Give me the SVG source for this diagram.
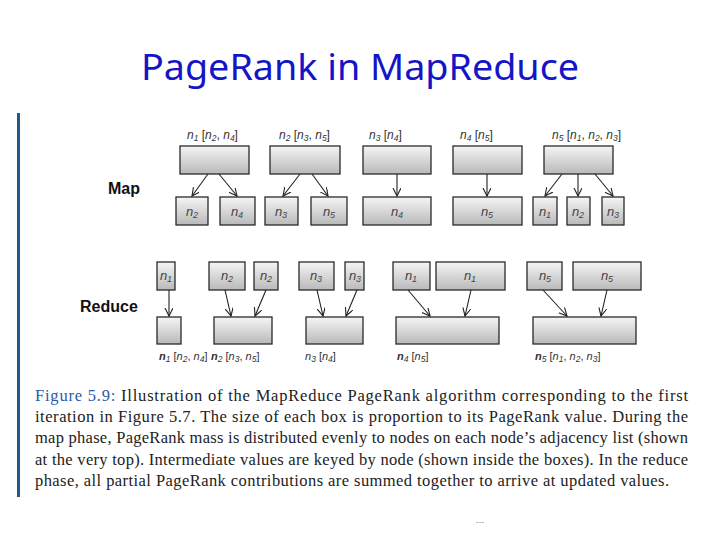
<svg xmlns="http://www.w3.org/2000/svg" width="720" height="540" viewBox="0 0 720 540">
<defs>
<linearGradient id="g" x1="0" y1="0" x2="0" y2="1">
<stop offset="0" stop-color="#f5f5f5"/>
<stop offset="1" stop-color="#b9b9b9"/>
</linearGradient>
<marker id="ah" markerWidth="10" markerHeight="10" refX="8" refY="4" orient="auto" markerUnits="userSpaceOnUse">
<path d="M0,0 L8,4 L0,8" fill="none" stroke="#222" stroke-width="1.1"/>
</marker>
</defs>
<style>
.box{fill:url(#g);stroke:#2a2a2a;stroke-width:1.3}
.in{font-family:"Liberation Sans",Arial,sans-serif;font-style:italic;font-size:13px;fill:#444;text-anchor:middle}
.lbl{font-family:"Liberation Sans",Arial,sans-serif;font-size:12px;fill:#333}
.rl{font-size:11px}
.i{font-style:italic}
.b{font-weight:bold;font-style:italic}
.s{font-size:8.5px;font-style:italic}
.arr{stroke:#222;stroke-width:1.1;fill:none;marker-end:url(#ah)}
.phase{font-family:"Liberation Sans",Arial,sans-serif;font-weight:bold;font-size:16px;fill:#111}
.cap{font-family:"Liberation Serif","Times New Roman",serif;font-size:16.5px;fill:#222}
</style>
<rect width="720" height="540" fill="#fff"/>
<text x="360" y="80" text-anchor="middle" font-family="'Noto Sans','Liberation Sans',sans-serif" font-size="37" fill="#1414c8" textLength="438" lengthAdjust="spacingAndGlyphs">PageRank in MapReduce</text>
<rect x="17" y="113" width="3" height="384" fill="#1f5a8a"/>

<text class="phase" x="108" y="194">Map</text>
<text class="phase" x="80" y="312">Reduce</text>

<g id="map-labels">
<text class="lbl" x="187" y="139"><tspan class="i">n</tspan><tspan class="s" dy="2">1</tspan><tspan dy="-2"> [</tspan><tspan class="i">n</tspan><tspan class="s" dy="2">2</tspan><tspan dy="-2">, </tspan><tspan class="i">n</tspan><tspan class="s" dy="2">4</tspan><tspan dy="-2">]</tspan></text>
<text class="lbl" x="279" y="139"><tspan class="i">n</tspan><tspan class="s" dy="2">2</tspan><tspan dy="-2"> [</tspan><tspan class="i">n</tspan><tspan class="s" dy="2">3</tspan><tspan dy="-2">, </tspan><tspan class="i">n</tspan><tspan class="s" dy="2">5</tspan><tspan dy="-2">]</tspan></text>
<text class="lbl" x="369" y="139"><tspan class="i">n</tspan><tspan class="s" dy="2">3</tspan><tspan dy="-2"> [</tspan><tspan class="i">n</tspan><tspan class="s" dy="2">4</tspan><tspan dy="-2">]</tspan></text>
<text class="lbl" x="460" y="139"><tspan class="i">n</tspan><tspan class="s" dy="2">4</tspan><tspan dy="-2"> [</tspan><tspan class="i">n</tspan><tspan class="s" dy="2">5</tspan><tspan dy="-2">]</tspan></text>
<text class="lbl" x="552" y="139"><tspan class="i">n</tspan><tspan class="s" dy="2">5</tspan><tspan dy="-2"> [</tspan><tspan class="i">n</tspan><tspan class="s" dy="2">1</tspan><tspan dy="-2">, </tspan><tspan class="i">n</tspan><tspan class="s" dy="2">2</tspan><tspan dy="-2">, </tspan><tspan class="i">n</tspan><tspan class="s" dy="2">3</tspan><tspan dy="-2">]</tspan></text>
</g>

<g id="m1"><rect class="box" x="180" y="146" width="69" height="28"/></g>
<g id="m2"><rect class="box" x="270" y="146" width="70" height="28"/></g>
<g id="m3"><rect class="box" x="363" y="146" width="68" height="28"/></g>
<g id="m4"><rect class="box" x="453" y="146" width="69" height="28"/></g>
<g id="m5"><rect class="box" x="544" y="146" width="69" height="28"/></g>

<g id="mo1"><rect class="box" x="176" y="197" width="32" height="28"/><text class="in" x="192" y="216">n<tspan font-size="9" dy="2">2</tspan></text></g>
<g id="mo2"><rect class="box" x="220" y="197" width="35" height="28"/><text class="in" x="237" y="216">n<tspan font-size="9" dy="2">4</tspan></text></g>
<g id="mo3"><rect class="box" x="265" y="197" width="33" height="28"/><text class="in" x="281" y="216">n<tspan font-size="9" dy="2">3</tspan></text></g>
<g id="mo4"><rect class="box" x="311" y="197" width="36" height="28"/><text class="in" x="329" y="216">n<tspan font-size="9" dy="2">5</tspan></text></g>
<g id="mo5"><rect class="box" x="363" y="197" width="68" height="28"/><text class="in" x="397" y="216">n<tspan font-size="9" dy="2">4</tspan></text></g>
<g id="mo6"><rect class="box" x="453" y="197" width="69" height="28"/><text class="in" x="487" y="216">n<tspan font-size="9" dy="2">5</tspan></text></g>
<g id="mo7"><rect class="box" x="533" y="197" width="24" height="28"/><text class="in" x="545" y="216">n<tspan font-size="9" dy="2">1</tspan></text></g>
<g id="mo8"><rect class="box" x="567" y="197" width="23" height="28"/><text class="in" x="578" y="216">n<tspan font-size="9" dy="2">2</tspan></text></g>
<g id="mo9"><rect class="box" x="602" y="197" width="22" height="28"/><text class="in" x="613" y="216">n<tspan font-size="9" dy="2">3</tspan></text></g>

<g id="ri1"><rect class="box" x="157" y="262" width="18" height="28"/><text class="in" x="166" y="280">n<tspan font-size="9" dy="2">1</tspan></text></g>
<g id="ri2"><rect class="box" x="209" y="262" width="36" height="28"/><text class="in" x="227" y="280">n<tspan font-size="9" dy="2">2</tspan></text></g>
<g id="ri3"><rect class="box" x="254" y="262" width="24" height="28"/><text class="in" x="266" y="280">n<tspan font-size="9" dy="2">2</tspan></text></g>
<g id="ri4"><rect class="box" x="299" y="262" width="35" height="28"/><text class="in" x="316" y="280">n<tspan font-size="9" dy="2">3</tspan></text></g>
<g id="ri5"><rect class="box" x="345" y="262" width="19" height="28"/><text class="in" x="355" y="280">n<tspan font-size="9" dy="2">3</tspan></text></g>
<g id="ri6"><rect class="box" x="393" y="262" width="37" height="28"/><text class="in" x="411" y="280">n<tspan font-size="9" dy="2">1</tspan></text></g>
<g id="ri7"><rect class="box" x="436" y="262" width="69" height="28"/><text class="in" x="470" y="280">n<tspan font-size="9" dy="2">1</tspan></text></g>
<g id="ri8"><rect class="box" x="527" y="262" width="35" height="28"/><text class="in" x="545" y="280">n<tspan font-size="9" dy="2">5</tspan></text></g>
<g id="ri9"><rect class="box" x="573" y="262" width="68" height="28"/><text class="in" x="607" y="280">n<tspan font-size="9" dy="2">5</tspan></text></g>

<g id="r1"><rect class="box" x="157" y="317" width="24" height="27"/></g>
<g id="r2"><rect class="box" x="214" y="317" width="58" height="27"/></g>
<g id="r3"><rect class="box" x="306" y="317" width="57" height="27"/></g>
<g id="r4"><rect class="box" x="396" y="317" width="103" height="27"/></g>
<g id="r5"><rect class="box" x="533" y="317" width="103" height="27"/></g>

<g id="reduce-labels">
<text class="lbl rl" x="159" y="360"><tspan class="b">n</tspan><tspan class="s" dy="2">1</tspan><tspan dy="-2"> [</tspan><tspan class="i">n</tspan><tspan class="s" dy="2">2</tspan><tspan dy="-2">, </tspan><tspan class="i">n</tspan><tspan class="s" dy="2">4</tspan><tspan dy="-2">]</tspan></text>
<text class="lbl rl" x="211" y="360"><tspan class="b">n</tspan><tspan class="s" dy="2">2</tspan><tspan dy="-2"> [</tspan><tspan class="i">n</tspan><tspan class="s" dy="2">3</tspan><tspan dy="-2">, </tspan><tspan class="i">n</tspan><tspan class="s" dy="2">5</tspan><tspan dy="-2">]</tspan></text>
<text class="lbl rl" x="305" y="360"><tspan class="i">n</tspan><tspan class="s" dy="2">3</tspan><tspan dy="-2"> [</tspan><tspan class="i">n</tspan><tspan class="s" dy="2">4</tspan><tspan dy="-2">]</tspan></text>
<text class="lbl rl" x="397" y="360"><tspan class="b">n</tspan><tspan class="s" dy="2">4</tspan><tspan dy="-2"> [</tspan><tspan class="i">n</tspan><tspan class="s" dy="2">5</tspan><tspan dy="-2">]</tspan></text>
<text class="lbl rl" x="535" y="360"><tspan class="b">n</tspan><tspan class="s" dy="2">5</tspan><tspan dy="-2"> [</tspan><tspan class="i">n</tspan><tspan class="s" dy="2">1</tspan><tspan dy="-2">, </tspan><tspan class="i">n</tspan><tspan class="s" dy="2">2</tspan><tspan dy="-2">, </tspan><tspan class="i">n</tspan><tspan class="s" dy="2">3</tspan><tspan dy="-2">]</tspan></text>
</g>

<g id="connectors">
<line class="arr" x1="208" y1="174" x2="192" y2="196"/>
<line class="arr" x1="219" y1="174" x2="237" y2="196"/>
<line class="arr" x1="300" y1="174" x2="283" y2="196"/>
<line class="arr" x1="312" y1="174" x2="328" y2="196"/>
<line class="arr" x1="397" y1="174" x2="397" y2="196"/>
<line class="arr" x1="487" y1="174" x2="487" y2="196"/>
<line class="arr" x1="562" y1="174" x2="545" y2="196"/>
<line class="arr" x1="578" y1="174" x2="578" y2="196"/>
<line class="arr" x1="595" y1="174" x2="613" y2="196"/>
<line class="arr" x1="169" y1="290" x2="169" y2="316"/>
<line class="arr" x1="225" y1="290" x2="231" y2="316"/>
<line class="arr" x1="266" y1="290" x2="255" y2="316"/>
<line class="arr" x1="317" y1="290" x2="323" y2="316"/>
<line class="arr" x1="357" y1="290" x2="346" y2="316"/>
<line class="arr" x1="408" y1="290" x2="430" y2="316"/>
<line class="arr" x1="471" y1="290" x2="465" y2="316"/>
<line class="arr" x1="543" y1="290" x2="567" y2="316"/>
<line class="arr" x1="607" y1="290" x2="601" y2="316"/>
</g>

<g id="caption">
<text class="cap" x="35" y="401" textLength="653" lengthAdjust="spacing"><tspan fill="#2a5aa8">Figure 5.9:</tspan> Illustration of the MapReduce PageRank algorithm corresponding to the first</text>
<text class="cap" x="35" y="422" textLength="653" lengthAdjust="spacing">iteration in Figure 5.7. The size of each box is proportion to its PageRank value. During the</text>
<text class="cap" x="35" y="443" textLength="653" lengthAdjust="spacing">map phase, PageRank mass is distributed evenly to nodes on each node’s adjacency list (shown</text>
<text class="cap" x="35" y="465" textLength="653" lengthAdjust="spacing">at the very top). Intermediate values are keyed by node (shown inside the boxes). In the reduce</text>
<text class="cap" x="35" y="486" textLength="634" lengthAdjust="spacing">phase, all partial PageRank contributions are summed together to arrive at updated values.</text>
</g>
<text x="480" y="523" text-anchor="middle" font-family="'Liberation Sans',sans-serif" font-size="9" fill="#555">…</text>
</svg>
